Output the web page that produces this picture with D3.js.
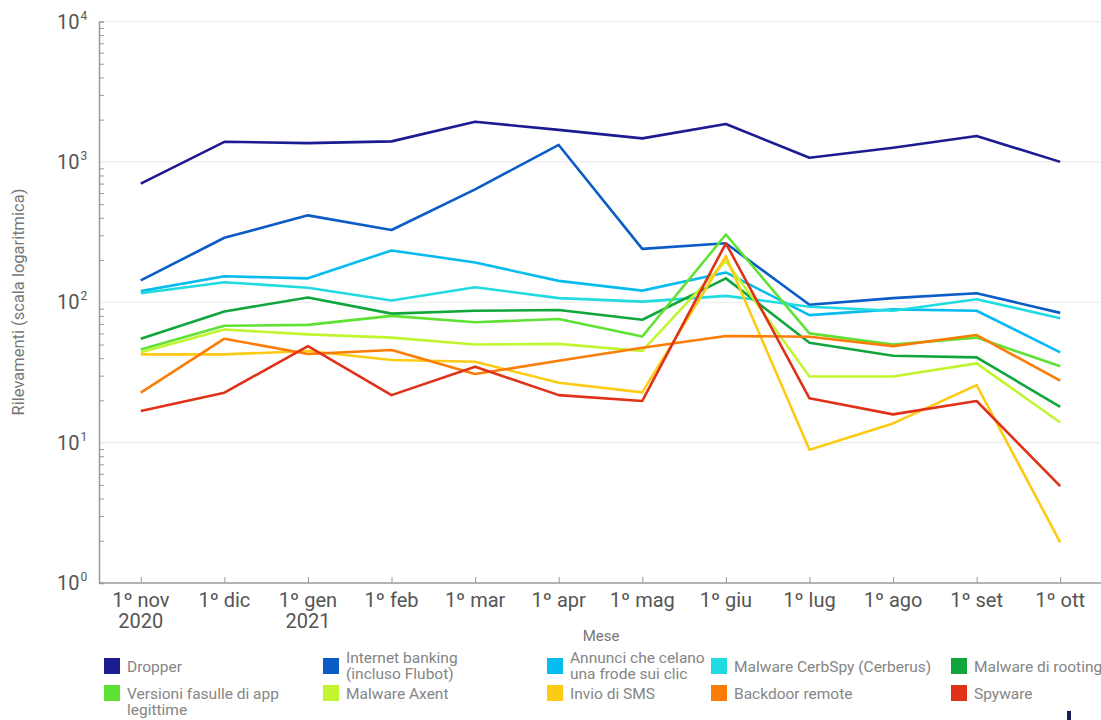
<!DOCTYPE html>
<html>
<head>
<meta charset="utf-8">
<script src="https://cdn.jsdelivr.net/npm/d3@7"></script>
<style>
  html, body { margin: 0; padding: 0; background: #fff; }
  svg { display: block; font-family: Roboto, "Noto Sans", sans-serif; }
</style>
</head>
<body>
<svg id="chart" width="1101" height="720"></svg>
<script>
// mesi (asse x)
const months = ["nov", "dic", "gen", "feb", "mar", "apr", "mag", "giu", "lug", "ago", "set", "ott"];
const monthLabels = [["1º nov", "2020"], ["1º dic"], ["1º gen", "2021"], ["1º feb"], ["1º mar"], ["1º apr"],
                     ["1º mag"], ["1º giu"], ["1º lug"], ["1º ago"], ["1º set"], ["1º ott"]];
const yDecades = [1, 10, 100, 1000, 10000];

// serie (rilevamenti)
const dropper    = [700, 1390, 1360, 1400, 1930, 1690, 1470, 1860, 1070, 1260, 1530, 1000];
const banking    = [143, 288, 416, 327, 637, 1320, 240, 263, 96, 107, 116, 84];
const annunci    = [120, 153, 148, 234, 192, 142, 121, 163, 81, 89, 87, 44];
const cerbspy    = [116, 139, 127, 103, 128, 107, 101, 111, 93, 87, 105, 77];
const rooting    = [55, 86, 108, 83, 87, 88, 75, 148, 51.5, 41.6, 40.5, 18];
const versioni   = [46, 68, 69, 80, 72, 76, 57, 304, 60, 50, 56, 35];
const axent      = [44, 64, 59, 56, 50, 50.5, 45, 197, 29.6, 29.6, 36.7, 13.9];
const sms        = [42.5, 42.5, 45, 38.8, 37.7, 26.7, 22.8, 213, 8.9, 13.7, 25.7, 1.95];
const backdoor   = [22.7, 55, 42.8, 45.7, 30.8, 38.3, 47.4, 57.5, 56.8, 48.7, 58.4, 27.6];
const spyware    = [16.8, 22.7, 48.7, 21.8, 34.7, 21.8, 19.8, 263, 20.7, 15.9, 19.8, 4.9];

const seriesNames = [["Dropper"], ["Internet banking", "(incluso Flubot)"], ["Annunci che celano", "una frode sui clic"],
                     ["Malware CerbSpy (Cerberus)"], ["Malware di rooting"], ["Versioni fasulle di app", "legittime"],
                     ["Malware Axent"], ["Invio di SMS"], ["Backdoor remote"], ["Spyware"]];
const seriesValues = [dropper, banking, annunci, cerbspy, rooting, versioni, axent, sms, backdoor, spyware];
const seriesColors = ["#1b1b92", "#0b5cc6", "#06bcee", "#20dbe0", "#10a63c", "#5ee233", "#c0f52f", "#fdcb13", "#fb7d08", "#e03219"];

const svg = d3.select("#chart");
const MARGIN = {TOP: 21.5, BOTTOM: 137, LEFT: 99};
const W = 1101, H = 720;

const x = d3.scalePoint().domain(months).range([MARGIN.LEFT, 1102]).padding(0.5);
const y = d3.scaleLog().domain([1, 10000]).range([H - MARGIN.BOTTOM, MARGIN.TOP]);

// griglia orizzontale
svg.append("g")
  .selectAll("line")
  .data(yDecades.slice(1))
  .join("line")
  .attr("x1", MARGIN.LEFT).attr("x2", W)
  .attr("y1", d => y(d)).attr("y2", d => y(d))
  .attr("stroke", "#ebebeb").attr("stroke-width", 1.2);

// asse y: tacche minori
const minor = [];
for (let i = 0; i < 4; i++) for (let k = 2; k <= 9; k++) minor.push(k * Math.pow(10, i));
const yAxis = svg.append("g")
  .attr("transform", `translate(${MARGIN.LEFT},0)`)
  .call(d3.axisLeft(y).tickValues(minor).tickSize(-5).tickFormat(""));
yAxis.select(".domain").attr("stroke", "#9a9a9a").attr("stroke-width", 1.5);
yAxis.selectAll(".tick line").attr("stroke", "#9a9a9a");

// etichette y con esponente
const yl = svg.append("g").selectAll("text")
  .data(yDecades)
  .join("text")
  .attr("x", 57).attr("y", d => y(d) + 7)
  .attr("font-size", 20).attr("fill", "#555");
yl.append("tspan").text("10");
yl.append("tspan").attr("dy", -9).attr("dx", 1).attr("font-size", 12).text(d => Math.round(Math.log10(d)));

// asse x
const xAxis = svg.append("g")
  .attr("transform", `translate(0,${H - MARGIN.BOTTOM})`)
  .call(d3.axisBottom(x).tickSize(-6).tickSizeOuter(0).tickFormat(""));
xAxis.select(".domain").attr("stroke", "#9a9a9a").attr("stroke-width", 1.5)
  .attr("d", `M${MARGIN.LEFT},0H${W}`);
xAxis.selectAll(".tick line").attr("stroke", "#9a9a9a");

svg.append("g").selectAll("text")
  .data(months)
  .join("text")
  .attr("text-anchor", "middle")
  .attr("font-size", 20).attr("fill", "#555")
  .attr("transform", d => `translate(${x(d)},${H - MARGIN.BOTTOM + 24})`)
  .each(function(d, i) {
    monthLabels[i].forEach((t, j) => {
      d3.select(this).append("tspan").attr("x", 0).attr("dy", j === 0 ? 0 : 21).text(t);
    });
  });

// titoli assi
svg.append("text")
  .attr("transform", "translate(24,302) rotate(-90)")
  .attr("text-anchor", "middle").attr("font-size", 16.5).attr("fill", "#777")
  .text("Rilevamenti (scala logaritmica)");
svg.append("text")
  .attr("x", 601).attr("y", 641)
  .attr("text-anchor", "middle").attr("font-size", 15).attr("fill", "#777")
  .text("Mese");

// linee
const line = d3.line()
  .x((d, i) => x(months[i]))
  .y(d => y(d));

svg.append("g")
  .selectAll("path")
  .data(seriesValues)
  .join("path")
  .attr("fill", "none")
  .attr("stroke", (d, i) => seriesColors[i])
  .attr("stroke-width", 2.6)
  .attr("stroke-linejoin", "round")
  .attr("d", line);

// legenda
const legendCols = [104, 323, 547, 711, 951];
const legendRows = [666, 693];
const legend = svg.append("g").selectAll("g")
  .data(seriesNames)
  .join("g")
  .attr("transform", (d, i) => `translate(${legendCols[i % 5]},${legendRows[Math.floor(i / 5)]})`);
legend.append("rect")
  .attr("x", 0).attr("y", -8).attr("width", 16).attr("height", 16)
  .attr("fill", (d, i) => seriesColors[i]);
legend.append("text")
  .attr("x", 23)
  .attr("font-size", 15.5).attr("fill", "#858585")
  .each(function(d) {
    const two = d.length > 1;
    d.forEach((t, j) => {
      d3.select(this).append("tspan").attr("x", 23)
        .attr("y", (j * 16) + ((two && d[0] !== "Versioni fasulle di app") ? -3 : 6))
        .text(t);
    });
  });

// frammento logo in basso a destra
svg.append("rect").attr("x", 1067).attr("y", 711).attr("width", 4).attr("height", 9).attr("fill", "#1b1b5a");
</script>
</body>
</html>
